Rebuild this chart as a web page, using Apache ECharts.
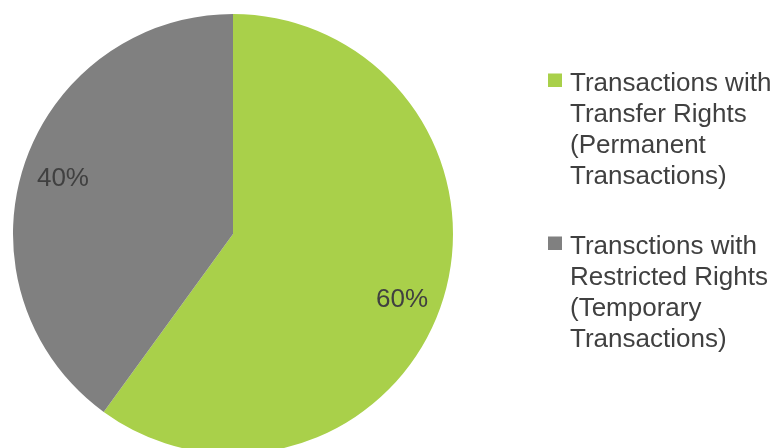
<!DOCTYPE html>
<html>
<head>
<meta charset="utf-8">
<script src="https://cdn.jsdelivr.net/npm/echarts@6/dist/echarts.min.js"></script>
<style>
  html, body { margin: 0; padding: 0; background: #fff; }
  #chart { width: 777px; height: 448px; }
</style>
</head>
<body>
<div id="chart"></div>
<script>
var names = [
    'Transactions with\nTransfer Rights\n(Permanent\nTransactions)',
    'Transctions with\nRestricted Rights\n(Temporary\nTransactions)'
];
var values = [60, 40];
var colors = ['#a9d04a', '#808080'];

var chart = echarts.init(document.getElementById('chart'));

var pieData = names.map(function (n, i) {
    return {name: n, value: values[i], itemStyle: {color: colors[i]}};
});

// nudges so the percent labels sit where the original put them
var labelOffsets = [[-5, 9], [4, 1]];

// legend icon: small square near the top of a tall item box so it sits on the first text line
var icon = 'path://M0,11h14v13.5h-14z M16.9,123.9h0.1v0.1h-0.1z';

chart.setOption({
    animation: false,
    legend: {
        orient: 'vertical',
        left: 548,
        top: 68,
        padding: 0,
        itemGap: 39,
        itemWidth: 17,
        itemHeight: 124,
        icon: icon,
        data: names.map(function (n, i) {
            return {name: n, itemStyle: {color: colors[i], borderWidth: 0}};
        }),
        textStyle: {
            fontFamily: 'Liberation Sans, Arial, sans-serif',
            fontSize: 26,
            lineHeight: 31,
            color: '#404040'
        },
        selectedMode: false
    },
    series: [
        {
            type: 'pie',
            center: [233, 234],
            radius: 220,
            startAngle: 90,
            clockwise: true,
            label: {show: false},
            labelLine: {show: false},
            itemStyle: {borderWidth: 0},
            emphasis: {disabled: true},
            data: pieData
        },
        {
            // invisible ring, only used to place the percent labels
            type: 'pie',
            center: [233, 234],
            radius: [140, 220],
            startAngle: 90,
            clockwise: true,
            silent: true,
            legendHoverLink: false,
            itemStyle: {color: 'rgba(0,0,0,0)', borderWidth: 0},
            emphasis: {disabled: true},
            label: {
                show: true,
                position: 'inside',
                formatter: '{d}%',
                fontFamily: 'Liberation Sans, Arial, sans-serif',
                fontSize: 26,
                color: '#404040'
            },
            labelLine: {show: false},
            data: names.map(function (n, i) {
                return {name: n, value: values[i], label: {offset: labelOffsets[i]}};
            })
        }
    ]
});
</script>
</body>
</html>
